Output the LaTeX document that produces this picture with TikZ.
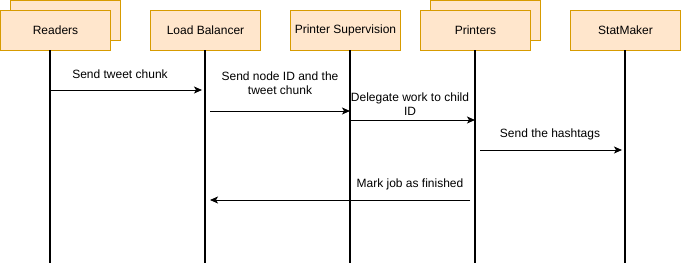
\documentclass[tikz,border=0pt]{standalone}
\usepackage{fontspec}
\setmainfont{Liberation Sans}
\usetikzlibrary{arrows.meta}
\definecolor{boxfill}{HTML}{FFE6CC}
\definecolor{boxline}{HTML}{D79B00}
\begin{document}
\begin{tikzpicture}[x=1pt,y=-1pt,
  actor/.style={draw=boxline,fill=boxfill,line width=1pt,minimum width=110pt,minimum height=40pt,
    inner sep=0pt,font=\fontsize{12}{14}\selectfont,anchor=north west},
  shadowbox/.style={draw=boxline,fill=boxfill,line width=1pt,minimum width=110pt,minimum height=40pt,
    inner sep=0pt,anchor=north west},
  lifeline/.style={line width=2pt,black},
  msg/.style={line width=1pt,-{Stealth[length=8pt,width=7pt,inset=2pt]}},
  lbl/.style={font=\fontsize{12}{14}\selectfont,align=center,inner sep=0pt}]
\useasboundingbox (0,0) rectangle (681,263);
% stacked boxes for the multi-instance actors
\node[shadowbox] (readersback) at (10,0) {};
\node[shadowbox] (printersback) at (430,0) {};
% actor heads
\node[actor] (readers) at (0,10) {Readers};
\node[actor] (lb) at (150,10) {Load Balancer};
\node[actor] (ps) at (290,10) {Printer Supervision};
\node[actor] (printers) at (420,10) {Printers};
\node[actor] (stat) at (570,10) {StatMaker};
% lifeline ends
\coordinate (readersend) at (50,263);
\coordinate (lbend) at (205,263);
\coordinate (psend) at (350,263);
\coordinate (printersend) at (475,263);
\coordinate (statend) at (625,263);
\draw[lifeline] (50,50) -- (readersend);
\draw[lifeline] (205,50) -- (lbend);
\draw[lifeline] (350,50) -- (psend);
\draw[lifeline] (475,50) -- (printersend);
\draw[lifeline] (625,50) -- (statend);
% message end points
\coordinate (m1a) at (50,90);   \coordinate (m1b) at (202,90);
\coordinate (m2a) at (210,111); \coordinate (m2b) at (350,111);
\coordinate (m3a) at (350,120); \coordinate (m3b) at (475,120);
\coordinate (m4a) at (480,150); \coordinate (m4b) at (622,150);
\coordinate (m5a) at (470,200); \coordinate (m5b) at (210,200);
\draw[msg] (m1a) -- (m1b);
\draw[msg] (m2a) -- (m2b);
\draw[msg] (m3a) -- (m3b);
\draw[msg] (m4a) -- (m4b);
\draw[msg] (m5a) -- (m5b);
% message labels
\node[lbl] (l1) at (120,74) {Send tweet chunk};
\node[lbl] (l2) at (280,83) {Send node ID and the\\tweet chunk};
\node[lbl] (l3) at (410,104) {Delegate work to child\\ID};
\node[lbl] (l4) at (550,134) {Send the hashtags};
\node[lbl] (l5) at (410,184) {Mark job as finished};
\end{tikzpicture}
\end{document}
